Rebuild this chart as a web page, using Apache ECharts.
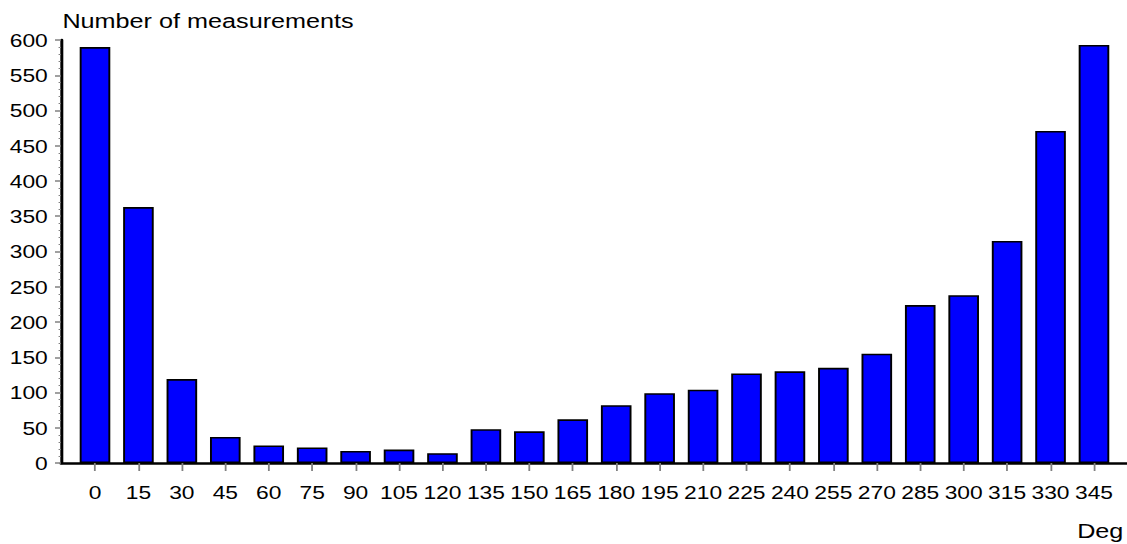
<!DOCTYPE html>
<html>
<head>
<meta charset="utf-8">
<script src="https://cdn.jsdelivr.net/npm/echarts@6/dist/echarts.min.js"></script>
<style>
  html, body { margin: 0; padding: 0; background: #fff; overflow: hidden; }
  #wrap { width: 1127px; height: 544px; overflow: hidden; }
  #chart { width: 939px; height: 544px; transform: scaleX(1.2002); transform-origin: 0 0; }
</style>
</head>
<body>
<div id="wrap"><div id="chart"></div></div>
<script>
// Direction bins (degrees) and number of measurements per bin
const categories = [0, 15, 30, 45, 60, 75, 90, 105, 120, 135, 150, 165,
                    180, 195, 210, 225, 240, 255, 270, 285, 300, 315, 330, 345];
const counts = [590, 363, 119, 37, 25, 22, 17, 19, 14, 48, 45, 62,
                82, 99, 104, 127, 130, 135, 155, 224, 238, 315, 471, 593];
const yTicks = [0, 50, 100, 150, 200, 250, 300, 350, 400, 450, 500, 550, 600];
const yTitle = 'Number of measurements';
const xTitle = 'Deg';

const FONT = '"Liberation Sans", Arial, sans-serif';
const chart = echarts.init(document.getElementById('chart'), null, { renderer: 'svg' });

chart.setOption({
  animation: false,
  backgroundColor: '#ffffff',
  title: [
    { text: yTitle, left: 52, top: 10, padding: 0,
      textStyle: { fontFamily: FONT, fontSize: 21, fontWeight: 'normal', color: '#000' } },
    { text: xTitle, right: 3, top: 520, padding: 0,
      textStyle: { fontFamily: FONT, fontSize: 21, fontWeight: 'normal', color: '#000' } }
  ],
  grid: { left: 50.8, right: 0, top: 40, bottom: 81, containLabel: false },
  xAxis: {
    type: 'value',
    min: -11.75,
    max: 356.4,
    splitLine: { show: false },
    axisLine: { show: true, onZero: false, lineStyle: { color: '#000', width: 2.5 } },
    axisTick: { show: true, customValues: categories, length: 8, inside: false,
                lineStyle: { color: '#808080', width: 1.5 } },
    axisLabel: { show: true, customValues: categories, margin: 20,
                 fontFamily: FONT, fontSize: 19, color: '#000' }
  },
  yAxis: {
    type: 'value',
    min: 0,
    max: 600,
    interval: 50,
    splitLine: { show: false },
    axisLine: { show: true, onZero: false, lineStyle: { color: '#000', width: 2.5 } },
    axisTick: { show: true, length: 5, lineStyle: { color: '#808080', width: 1.5 } },
    minorTick: { show: true, splitNumber: 5, length: 2, lineStyle: { color: '#808080', width: 1 } },
    axisLabel: { show: true, margin: 11, fontFamily: FONT, fontSize: 19, color: '#000',
                 customValues: yTicks }
  },
  series: [{
    type: 'bar',
    data: categories.map((c, i) => [c, counts[i]]),
    barWidth: 25.5,
    itemStyle: { color: '#0000ff', borderColor: '#000', borderWidth: 1.6 },
    emphasis: { disabled: true }
  }]
});
</script>
</body>
</html>
